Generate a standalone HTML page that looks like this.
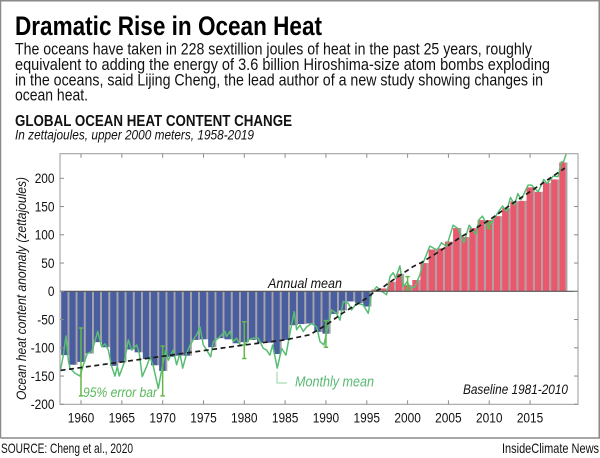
<!DOCTYPE html>
<html lang="en">
<head>
<meta charset="utf-8">
<title>Dramatic Rise in Ocean Heat</title>
<style>
html,body{margin:0;padding:0;background:#fff;}
svg{display:block;font-family:"Liberation Sans",sans-serif;}
</style>
</head>
<body>
<svg id="chart" xmlns="http://www.w3.org/2000/svg" width="600" height="458" viewBox="0 0 600 458">
  <rect x="0" y="0" width="600" height="458" fill="#fff"/>
  <path d="M0.5 438V0.75H599.25V438H0.5" fill="none" stroke="#8a8a8a" stroke-width="1.5"/>
  <text x="15" y="35" font-size="27" font-weight="700" fill="#000" textLength="307" lengthAdjust="spacingAndGlyphs">Dramatic Rise in Ocean Heat</text>
  <text x="15" y="54.5" font-size="16.5" fill="#111" textLength="517" lengthAdjust="spacingAndGlyphs">The oceans have taken in 228 sextillion joules of heat in the past 25 years, roughly</text>
  <text x="15" y="70" font-size="16.5" fill="#111" textLength="535" lengthAdjust="spacingAndGlyphs">equivalent to adding the energy of 3.6 billion Hiroshima-size atom bombs exploding</text>
  <text x="15" y="85.5" font-size="16.5" fill="#111" textLength="528" lengthAdjust="spacingAndGlyphs">in the oceans, said Lijing Cheng, the lead author of a new study showing changes in</text>
  <text x="15" y="100.5" font-size="16.5" fill="#111" textLength="73" lengthAdjust="spacingAndGlyphs">ocean heat.</text>
  <text x="15" y="126" font-size="16" font-weight="700" fill="#111" textLength="277" lengthAdjust="spacingAndGlyphs">GLOBAL OCEAN HEAT CONTENT CHANGE</text>
  <text x="15" y="139.5" font-size="13.5" font-style="italic" fill="#111" textLength="239" lengthAdjust="spacingAndGlyphs">In zettajoules, upper 2000 meters, 1958-2019</text>
  <text transform="translate(26,400) rotate(-90)" font-size="14" font-style="italic" fill="#111" textLength="223" lengthAdjust="spacingAndGlyphs">Ocean heat content anomaly (zettajoules)</text>
  <g id="plot"></g>
  <text x="268" y="288" font-size="14" font-style="italic" fill="#111" textLength="74" lengthAdjust="spacingAndGlyphs">Annual mean</text>
  <text x="295" y="386.5" font-size="14.5" font-style="italic" fill="#58b873" textLength="79" lengthAdjust="spacingAndGlyphs">Monthly mean</text>
  <path d="M277 372V383H287" fill="none" stroke="#8fd3a2" stroke-width="1"/>
  <text x="83" y="397" font-size="14" font-style="italic" fill="#58b85a" textLength="74" lengthAdjust="spacingAndGlyphs">95% error bar</text>
  <text x="463" y="394" font-size="13.5" font-style="italic" fill="#111" textLength="105" lengthAdjust="spacingAndGlyphs">Baseline 1981-2010</text>
  <text x="1" y="453" font-size="14" fill="#111" textLength="132" lengthAdjust="spacingAndGlyphs">SOURCE: Cheng et al., 2020</text>
  <text x="502" y="453" font-size="14" fill="#111" textLength="97" lengthAdjust="spacingAndGlyphs">InsideClimate News</text>
</svg>
<script>
const barYears = [1958,1959,1960,1961,1962,1963,1964,1965,1966,1967,1968,1969,1970,1971,1972,1973,1974,1975,1976,1977,1978,1979,1980,1981,1982,1983,1984,1985,1986,1987,1988,1989,1990,1991,1992,1993,1994,1995,1996,1997,1998,1999,2000,2001,2002,2003,2004,2005,2006,2007,2008,2009,2010,2011,2012,2013,2014,2015,2016,2017,2018,2019];
const barValues = [-113,-130,-125,-110,-90,-99,-132,-126,-103,-108,-120,-131,-141,-116,-114,-114,-86,-85,-99,-83,-85,-92,-90,-86,-91,-91,-111,-86,-60,-58,-57,-72,-75,-40,-34,-18,-21,-27,3,5,17,31,11,20,50,74,76,88,112,96,112,126,126,133,147,159,160,184,176,192,198,228];
const monthlyTimes = [1957.5,1957.84,1958.16,1958.45,1958.65,1959.27,1959.88,1960.29,1960.78,1961.3,1961.7,1962.04,1962.53,1962.94,1963.35,1963.76,1964.16,1964.45,1964.69,1965.27,1965.8,1966.2,1966.82,1967.14,1967.5,1968.04,1968.45,1968.86,1969.47,1969.88,1970.37,1970.7,1971.3,1971.71,1972.12,1972.45,1972.94,1973.35,1973.76,1974.16,1974.57,1974.98,1975.39,1975.88,1976.2,1976.82,1977.63,1977.84,1978.24,1978.65,1979.06,1979.47,1980.08,1980.49,1981.1,1981.71,1982.33,1982.73,1983.14,1983.47,1984.04,1984.57,1985.1,1985.59,1986.12,1986.41,1986.81,1987.22,1987.63,1988.24,1988.86,1989.27,1989.75,1990.28,1990.69,1991.3,1991.71,1992.12,1992.73,1993.14,1993.75,1994.57,1995.18,1995.59,1996.2,1996.82,1997.43,1997.84,1998.23,1998.56,1999.05,1999.46,1999.95,2000.36,2000.89,2001.5,2001.9,2002.72,2003.62,2004.15,2004.76,2005.58,2006.19,2006.89,2007.54,2008.36,2008.76,2009.17,2009.87,2010.68,2011.62,2012.11,2012.6,2013.09,2013.5,2013.9,2014.76,2015.17,2015.99,2016.68,2017.09,2017.84,2018.44,2018.84,2019.1,2019.43];
const monthlyValues = [-138,-113,-79,-122,-136,-145,-150,-130,-110,-107,-89,-71,-98,-93,-104,-133,-150,-133,-150,-127,-86,-104,-95,-110,-151,-133,-116,-133,-172,-139,-104,-122,-104,-130,-110,-136,-110,-95,-86,-77,-63,-95,-104,-116,-89,-83,-71,-80,-71,-89,-83,-95,-95,-86,-83,-83,-101,-104,-113,-95,-136,-101,-113,-74,-36,-68,-60,-71,-63,-57,-63,-89,-95,-60,-33,-39,-51,-18,-21,-33,-21,-24,-39,-4,8,0,-6,26,33,23,45,8,17,5,8,29,50,80,73,86,79,117,111,86,117,101,127,133,113,131,151,141,166,153,173,162,188,188,176,198,191,204,203,229,229,244];
const trendTimes = [1957.5,1960,1965,1970,1975,1980,1985,1988,1990,1992,1995,1996,1996.8,1997.6,2000.7,2001.7,2003.5,2006.4,2010,2012.9,2016.2,2019.25];
const trendValues = [-140,-135,-125,-115,-105,-95,-86,-77,-60,-39,-12,0,5,14,44,51,67,95,126,156,188,218];
const errorYears = [1960,1970,1980,1990,2000,2010];
const errorHigh = [-65,-97,-54,-52,26,123];
const errorLow = [-185,-185,-119,-99,2,111];
const yTicks = [-200,-150,-100,-50,0,50,100,150,200];
const xTicks = [1960,1965,1970,1975,1980,1985,1990,1995,2000,2005,2010,2015];

const NS = 'http://www.w3.org/2000/svg';
const plot = document.getElementById('plot');
const left = 60, right = 578, top_ = 153.7, bottom = 404.3;
function xScale(t) { return 81 + (t - 1960) * 8.165; }
function yScale(v) { return 291.3 - v * 0.565; }
function make(tag, attrs) {
  const el = document.createElementNS(NS, tag);
  for (const k in attrs) el.setAttribute(k, attrs[k]);
  plot.appendChild(el);
  return el;
}
function linePath(ts, vs) {
  return ts.map(function (t, i) { return (i ? 'L' : 'M') + xScale(t).toFixed(2) + ' ' + yScale(vs[i]).toFixed(2); }).join('');
}

const defs = make('defs', {});
const clip = document.createElementNS(NS, 'clipPath');
clip.setAttribute('id', 'plot-clip');
const clipRect = document.createElementNS(NS, 'rect');
clipRect.setAttribute('x', left);
clipRect.setAttribute('y', top_);
clipRect.setAttribute('width', right - left);
clipRect.setAttribute('height', bottom - top_);
clip.appendChild(clipRect);
defs.appendChild(clip);

barYears.forEach(function (year, i) {
  const v = barValues[i];
  const y0 = Math.min(yScale(v), yScale(0));
  const h = Math.abs(yScale(v) - yScale(0));
  const cx = xScale(year);
  const shade = make('rect', { x: cx + 2.9, y: y0, width: 1.8, height: h, fill: '#a4a4a4' });
  
  
  const bar = make('rect', { x: cx - 3.5, y: y0, width: 6.4, height: h, fill: v < 0 ? '#4a5d9e' : '#e9596e' });
  
  
});

const monthly = make('path', { d: linePath(monthlyTimes, monthlyValues), fill: 'none', stroke: '#56bd72', 'stroke-width': 1.5, 'stroke-linejoin': 'round', 'clip-path': 'url(#plot-clip)' });



errorYears.forEach(function (year, i) {
  const cx = xScale(year);
  const yh = yScale(errorHigh[i]);
  const yl = yScale(errorLow[i]);
  const d = 'M' + cx + ' ' + yh + 'V' + yl + 'M' + (cx - 2.2) + ' ' + yh + 'H' + (cx + 2.2) + 'M' + (cx - 2.2) + ' ' + yl + 'H' + (cx + 2.2);
  const err = make('path', { d: d, fill: 'none', stroke: '#63b84a', 'stroke-width': 1.5 });
  
  
});

const trend = make('path', { d: linePath(trendTimes, trendValues), fill: 'none', stroke: '#1c1c1c', 'stroke-width': 1.7, 'stroke-dasharray': '5 3.5' });



const frame = make('rect', { x: left, y: top_, width: right - left, height: bottom - top_, fill: 'none', stroke: '#9a9a9a', 'stroke-width': 1 });



const zero = make('line', { x1: left, x2: right, y1: yScale(0), y2: yScale(0), stroke: '#555', 'stroke-width': 1.2 });



yTicks.forEach(function (v) {
  const y = yScale(v);
  const lt = make('line', { x1: left, x2: left + 4, y1: y, y2: y, stroke: '#8a8a8a', 'stroke-width': 1 });
  
  
  const rt = make('line', { x1: right - 4, x2: right, y1: y, y2: y, stroke: '#8a8a8a', 'stroke-width': 1 });
  
  
  const text = String(v);
  const label = make('text', { x: 54.5, y: y + 4.8, 'font-size': 13.5, 'text-anchor': 'end', fill: '#111', textLength: (text.replace('-', '').length * 6.6 + (v < 0 ? 4 : 0)).toFixed(1), lengthAdjust: 'spacingAndGlyphs' });
  label.textContent = text;
  
  
});

xTicks.forEach(function (year) {
  const x = xScale(year);
  const bt = make('line', { x1: x, x2: x, y1: bottom - 4, y2: bottom, stroke: '#8a8a8a', 'stroke-width': 1 });
  
  
  const tt = make('line', { x1: x, x2: x, y1: top_, y2: top_ + 4, stroke: '#8a8a8a', 'stroke-width': 1 });
  
  
  const label = make('text', { x: x, y: 422.5, 'font-size': 13.5, 'text-anchor': 'middle', fill: '#111', textLength: 26.5, lengthAdjust: 'spacingAndGlyphs' });
  label.textContent = String(year);
  
  
});
</script>
</body>
</html>
